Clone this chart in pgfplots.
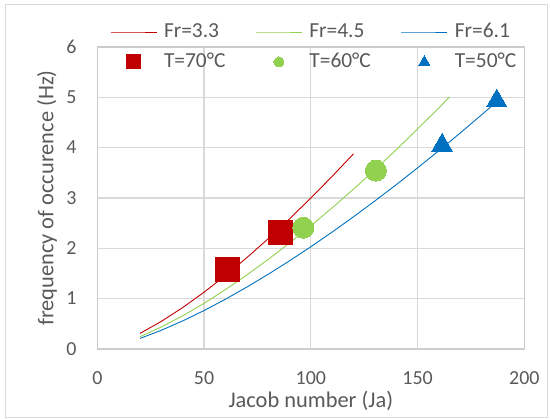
\documentclass[border=0pt]{standalone}
\usepackage{pgfplots}
\pgfplotsset{compat=1.18}
\usepackage{fontspec}
\setmainfont{Carlito}
\definecolor{myred}{HTML}{C00000}
\definecolor{mygreen}{HTML}{92D050}
\definecolor{myblue}{HTML}{0070C0}
\definecolor{txt}{HTML}{595959}
\definecolor{grd}{HTML}{D9D9D9}
\definecolor{axl}{HTML}{CCCCCC}
\begin{document}
\begin{tikzpicture}
\path (-97.3bp,-70bp) rectangle (452.7bp,349bp);
\draw[grd, line width=1bp] (-92bp,-68bp) rectangle (449.7bp,344.8bp);
\begin{axis}[
  at={(0,0)}, anchor=south west,
  scale only axis, width=427bp, height=302bp,
  xmin=0, xmax=200, ymin=0, ymax=6,
  xtick={0,50,100,150,200}, ytick={0,1,2,3,4,5,6},
  grid=major, major grid style={draw=grd, line width=1.3bp},
  axis line style={draw=axl, line width=1.3bp},
  tick style={draw=none},
  /pgf/number format/assume math mode=true,
  tick label style={font=\fontsize{20}{24}\selectfont, text=txt},
  xticklabel style={anchor=base, inner sep=0pt, yshift=-35.3bp},
  yticklabel style={anchor=base east, inner sep=0pt, xshift=-20.6bp, yshift=-6.3bp},
  label style={font=\fontsize{22.5}{27}\selectfont, text=txt},
  xlabel={Jacob number (Ja)},
  ylabel={frequency of occurence (Hz)},
  xlabel style={at={(axis description cs:0.5,-0.193)}, anchor=base},
  ylabel style={at={(axis description cs:-0.103,0.5)}, anchor=base},
  legend columns=3,
  legend cell align=left,
  legend image code/.code={\draw[mark repeat=2,mark phase=2,#1] plot coordinates {(0bp,0bp) (23bp,0bp) (46bp,0bp)};},
  legend style={draw=none, fill=none, at={(axis description cs:0.508,1)}, anchor=center,
    font=\fontsize{21.5}{25}\selectfont, text=txt,
    inner sep=0pt, row sep=7bp,
    nodes={inner sep=2bp, text height=15bp, text depth=4bp},
    /tikz/every odd column/.append style={column sep=5bp},
    /tikz/every even column/.append style={column sep=28bp}},
]
\addplot[myred, line width=0.9bp] coordinates {
(20,0.310) (30,0.549) (40,0.824) (50,1.128) (60,1.459) (70,1.814)
(80,2.189) (90,2.584) (100,2.999) (110,3.430) (120,3.878)};
\addlegendentry{Fr=3.3}
\addplot[mygreen, line width=0.9bp] coordinates {
(20,0.245) (30,0.438) (40,0.660) (50,0.908) (60,1.179) (70,1.470)
(80,1.779) (90,2.105) (100,2.447) (110,2.805) (120,3.176) (130,3.561)
(140,3.959) (150,4.371) (160,4.792) (165,5.008)};
\addlegendentry{Fr=4.5}
\addplot[myblue, line width=0.9bp] coordinates {
(20,0.210) (30,0.372) (40,0.558) (50,0.764) (60,0.988) (70,1.229)
(80,1.483) (90,1.751) (100,2.031) (110,2.324) (120,2.627) (130,2.941)
(140,3.264) (150,3.598) (160,3.940) (170,4.292) (180,4.653) (187,4.910)};
\addlegendentry{Fr=6.1}
\addplot[only marks, mark=square*, mark size=12bp, color=myred, fill=myred, mark options={line width=0pt},
  legend image post style={mark size=7bp}] coordinates {(61.1,1.57) (86.0,2.32)};
\addlegendentry{T=70°C}
\addplot[only marks, mark=*, mark size=10.5bp, color=mygreen, fill=mygreen, mark options={line width=0pt},
  legend image post style={mark size=5bp}] coordinates {(96.5,2.41) (130.5,3.545)};
\addlegendentry{T=60°C}
\addplot[only marks, mark=triangle*, mark size=11.8bp, color=myblue, fill=myblue, mark options={line width=0pt},
  legend image post style={mark size=6.5bp}] coordinates {(161.5,4.05) (187.1,4.93)};
\addlegendentry{T=50°C}
\end{axis}
\end{tikzpicture}
\end{document}
